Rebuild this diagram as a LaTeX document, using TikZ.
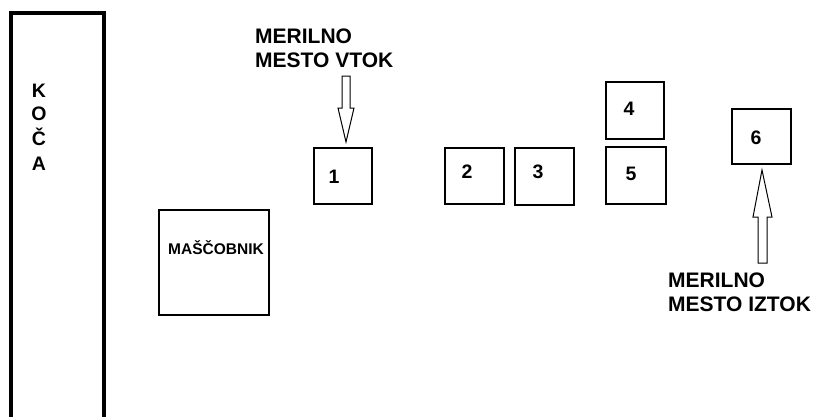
\documentclass[tikz,border=0pt]{standalone}
\usepackage{fontspec}
\setmainfont{Liberation Sans}
\begin{document}
\begin{tikzpicture}[x=1pt,y=-1pt,
  box/.style={draw=black,line width=1.6pt,fill=white,inner sep=0pt},
  num/.style={font=\fontsize{19.5}{22}\selectfont\bfseries,inner sep=0pt},
  lbl/.style={font=\fontsize{21}{24}\selectfont\bfseries,inner sep=0pt,anchor=base west,align=left},
  blockarrow/.style={draw=black,line width=1pt,fill=white}]
\useasboundingbox (0,0) rectangle (815,416);
\fill[white] (0,0) rectangle (815,416);
\begin{scope}
\clip (0,0) rectangle (815,416);
% KOCA wall
\draw[line width=3.5pt] (11,430) -- (11,13) -- (104,13) -- (104,430);
\end{scope}
\node[font=\fontsize{19.5}{24}\selectfont\bfseries,inner sep=0pt,anchor=base] (k1) at (39,97) {K};
\node[font=\fontsize{19.5}{24}\selectfont\bfseries,inner sep=0pt,anchor=base] (k2) at (39,120) {O};
\node[font=\fontsize{19.5}{24}\selectfont\bfseries,inner sep=0pt,anchor=base] (k3) at (39,145) {Č};
\node[font=\fontsize{19.5}{24}\selectfont\bfseries,inner sep=0pt,anchor=base] (k4) at (39,170) {A};
% boxes
\node[box,minimum width=110pt,minimum height=105pt] (mas) at (214,262.5) {};
\node[font=\fontsize{15.5}{18}\selectfont\bfseries,inner sep=0pt,anchor=base west] (mast) at (168,254) {MAŠČOBNIK};
\node[box,minimum width=58pt,minimum height=56pt] (b1) at (343,176) {};
\node[num] (t1) at (334,177) {1};
\node[box,minimum width=59pt,minimum height=56pt] (b2) at (474.5,176) {};
\node[num] (t2) at (467,172) {2};
\node[box,minimum width=59pt,minimum height=57pt] (b3) at (544.5,176.5) {};
\node[num] (t3) at (538,172) {3};
\node[box,minimum width=58pt,minimum height=57pt] (b4) at (635,110.5) {};
\node[num] (t4) at (629,109) {4};
\node[box,minimum width=60pt,minimum height=57pt] (b5) at (636,175.5) {};
\node[num] (t5) at (631,174) {5};
\node[box,minimum width=59pt,minimum height=55pt] (b6) at (761.5,136.5) {};
\node[num] (t6) at (756,138) {6};
% labels (base anchor = last line's baseline)
\node[lbl] (vtok) at (255,67) {MERILNO\\MESTO VTOK};
\node[lbl] (iztok) at (668,311) {MERILNO\\MESTO IZTOK};
% block arrows
\coordinate (dtip) at (346,142);
\coordinate (utip) at (762,170);
\draw[blockarrow] (342,76) -- (350,76) -- (350,108) -- (354,108) -- (dtip) -- (338,108) -- (342,108) -- cycle;
\draw[blockarrow] (758,263) -- (767,263) -- (767,217) -- (772,217) -- (utip) -- (753,217) -- (758,217) -- cycle;
\end{tikzpicture}
\end{document}
